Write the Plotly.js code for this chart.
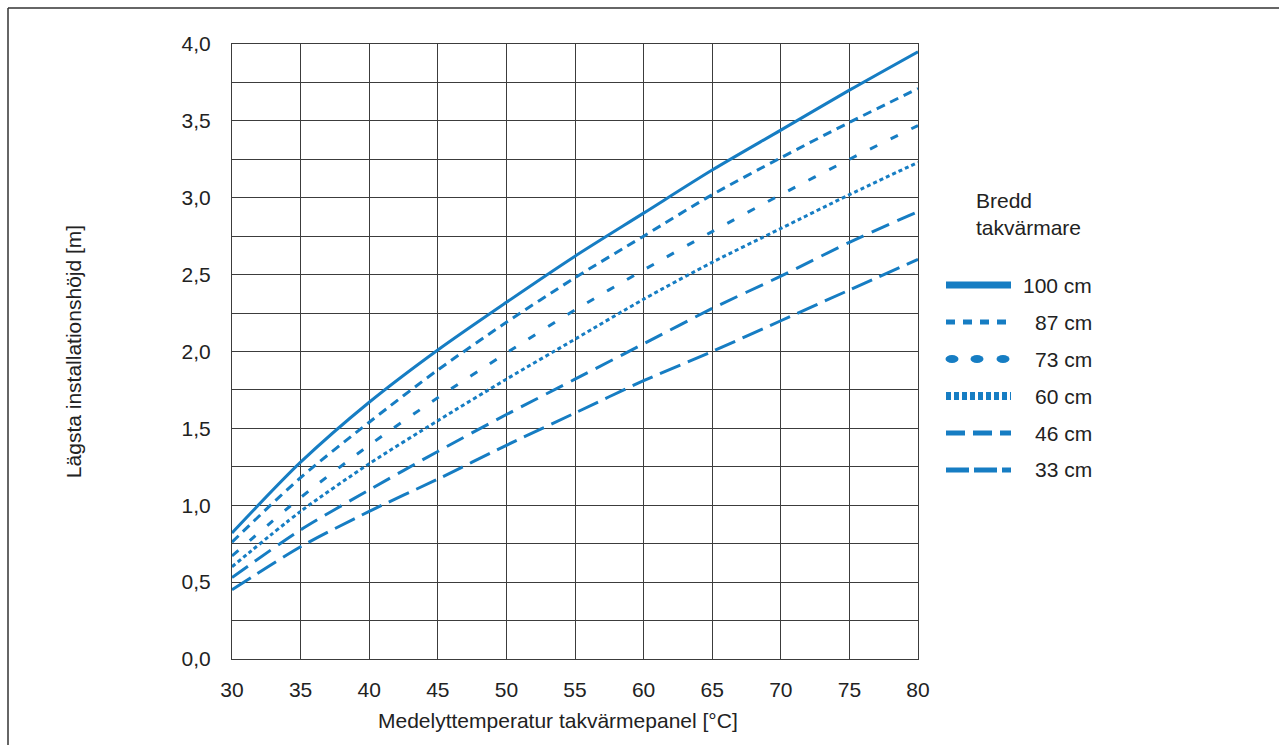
<!DOCTYPE html>
<html>
<head>
<meta charset="utf-8">
<script src="https://cdn.plot.ly/plotly-3.0.1.min.js"></script>
<style>
  html, body { margin: 0; padding: 0; background: #ffffff; }
  #chart { width: 1279px; height: 745px; }
</style>
</head>
<body>
<div id="chart"></div>
<script>
// ---- data ----
const temps = [30, 35, 40, 45, 50, 55, 60, 65, 70, 75, 80];
const h100 = [0.82, 1.28, 1.67, 2.01, 2.32, 2.62, 2.90, 3.18, 3.44, 3.70, 3.95];
const h87  = [0.76, 1.18, 1.54, 1.88, 2.19, 2.48, 2.75, 3.02, 3.26, 3.49, 3.71];
const h73  = [0.67, 1.05, 1.39, 1.70, 1.99, 2.27, 2.53, 2.78, 3.02, 3.25, 3.47];
const h60  = [0.60, 0.96, 1.27, 1.55, 1.82, 2.08, 2.34, 2.58, 2.80, 3.02, 3.23];
const h46  = [0.53, 0.84, 1.10, 1.35, 1.59, 1.82, 2.05, 2.28, 2.49, 2.71, 2.91];
const h33  = [0.45, 0.73, 0.96, 1.17, 1.39, 1.60, 1.81, 2.00, 2.20, 2.40, 2.60];
const seriesNames = ["100 cm", "87 cm", "73 cm", "60 cm", "46 cm", "33 cm"];
const xTickVals = [30, 35, 40, 45, 50, 55, 60, 65, 70, 75, 80];
const yTickVals = [0, 0.25, 0.5, 0.75, 1, 1.25, 1.5, 1.75, 2, 2.25, 2.5, 2.75, 3, 3.25, 3.5, 3.75, 4];
const yTickText = ["0,0", "", "0,5", "", "1,0", "", "1,5", "", "2,0", "", "2,5", "", "3,0", "", "3,5", "", "4,0"];
const legendTitle = "Bredd<br>takvärmare";
const xTitle = "Medelyttemperatur takvärmepanel [°C]";
const yTitle = "Lägsta installationshöjd [m]";

// ---- styling ----
const BLUE = "rgb(22,125,195)";
const TXT = "#222222";
const FONT = "Liberation Sans, Arial, Helvetica, sans-serif";
const FS = 21;
const W = 1279, H = 745;
const M = { l: 232, r: W - 918, t: 44, b: H - 659 };
const PW = W - M.l - M.r, PH = H - M.t - M.b;
const px = x => (x - M.l) / PW;
const py = y => (H - M.b - y) / PH;

const series = [h100, h87, h73, h60, h46, h33];
const chartDash = ["solid", "9px,6px", "8px,15px", "4px,3px", "19px,9px", "22px,8px"];

const traces = series.map((ys, i) => ({
  x: temps, y: ys, name: seriesNames[i], type: "scatter", mode: "lines",
  line: { color: BLUE, width: 3, dash: chartDash[i], shape: "spline", smoothing: 0.8 },
  showlegend: false, hoverinfo: "skip"
}));

// custom legend
const shapes = [];
const annotations = [];
const legY = [285, 322, 359, 396, 433, 470];
const legDash = ["solid", "9px,8px", null, "5px,3px", "19px,8px", "23px,5px"];
const legW = [7, 5, 0, 8, 5, 5];
legY.forEach((yy, i) => {
  if (i === 2) {
    [952, 977, 1003].forEach(cx => {
      shapes.push({ type: "circle", xref: "paper", yref: "paper",
        x0: px(cx - 6.5), x1: px(cx + 6.5), y0: py(yy + 4), y1: py(yy - 4),
        fillcolor: BLUE, line: { width: 0 } });
    });
  } else {
    shapes.push({ type: "line", xref: "paper", yref: "paper",
      x0: px(946), x1: px(1011), y0: py(yy), y1: py(yy),
      line: { color: BLUE, width: legW[i], dash: legDash[i] } });
  }
  annotations.push({ xref: "paper", yref: "paper", x: px(1094), y: py(yy),
    xanchor: "right", yanchor: "middle", showarrow: false, text: seriesNames[i],
    font: { family: FONT, size: FS, color: TXT } });
});
annotations.push({ xref: "paper", yref: "paper", x: px(974), y: py(187),
  xanchor: "left", yanchor: "top", align: "left", showarrow: false, text: legendTitle,
  font: { family: FONT, size: FS, color: TXT } });
// x-axis title (placed slightly left of the plot centre, as in the reference)
annotations.push({ xref: "paper", yref: "paper", x: px(558), y: py(720),
  xanchor: "center", yanchor: "middle", showarrow: false, text: xTitle,
  font: { family: FONT, size: FS, color: TXT } });

// outer frame (left and top edges)
shapes.push({ type: "line", xref: "paper", yref: "paper",
  x0: px(8), x1: px(W + 5), y0: py(8), y1: py(8), line: { color: "#333", width: 1.5 } });
shapes.push({ type: "line", xref: "paper", yref: "paper",
  x0: px(8), x1: px(8), y0: py(8), y1: py(H + 5), line: { color: "#333", width: 1.5 } });

const layout = {
  width: W, height: H,
  margin: M,
  paper_bgcolor: "#ffffff", plot_bgcolor: "#ffffff",
  font: { family: FONT, size: FS, color: TXT },
  showlegend: false,
  xaxis: {
    range: [30, 80], tickmode: "array", tickvals: xTickVals,
    showgrid: true, gridcolor: "#3c3c3c", gridwidth: 1,
    showline: true, linecolor: "#3c3c3c", linewidth: 1, mirror: true,
    zeroline: false, ticks: "outside", ticklen: 12, tickcolor: "rgba(0,0,0,0)",
    tickfont: { family: FONT, size: FS, color: TXT }
  },
  yaxis: {
    range: [0, 4], tickmode: "array", tickvals: yTickVals, ticktext: yTickText,
    showgrid: true, gridcolor: "#3c3c3c", gridwidth: 1,
    showline: true, linecolor: "#3c3c3c", linewidth: 1, mirror: true,
    zeroline: false, ticks: "outside", ticklen: 16, tickcolor: "rgba(0,0,0,0)",
    tickfont: { family: FONT, size: FS, color: TXT },
    title: { text: yTitle, font: { family: FONT, size: FS, color: TXT }, standoff: 94 }
  },
  shapes: shapes,
  annotations: annotations
};

Plotly.newPlot("chart", traces, layout, { staticPlot: true, displayModeBar: false });
</script>
</body>
</html>
